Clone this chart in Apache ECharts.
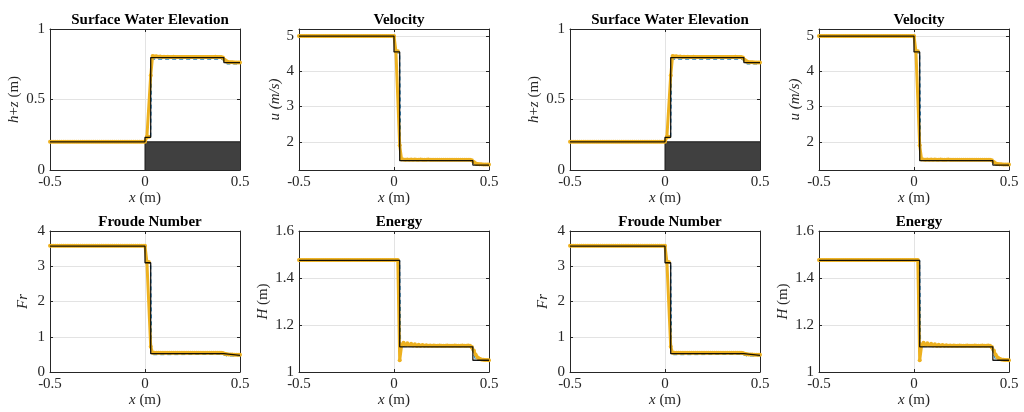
<!DOCTYPE html>
<html>
<head>
<meta charset="utf-8">
<script src="https://cdn.jsdelivr.net/npm/echarts@6/dist/echarts.min.js"></script>
<style>
html,body{margin:0;padding:0;background:#fff}
#chart{width:1024px;height:412px}
</style>
</head>
<body>
<div id="chart"></div>
<script>
// Numerical grid (cell centres, dx = 0.01 m)
const xGrid = [
  -0.50,-0.49,-0.48,-0.47,-0.46,-0.45,-0.44,-0.43,-0.42,-0.41,
  -0.40,-0.39,-0.38,-0.37,-0.36,-0.35,-0.34,-0.33,-0.32,-0.31,
  -0.30,-0.29,-0.28,-0.27,-0.26,-0.25,-0.24,-0.23,-0.22,-0.21,
  -0.20,-0.19,-0.18,-0.17,-0.16,-0.15,-0.14,-0.13,-0.12,-0.11,
  -0.10,-0.09,-0.08,-0.07,-0.06,-0.05,-0.04,-0.03,-0.02,-0.01,
   0.00, 0.01, 0.02, 0.03, 0.04, 0.05, 0.06, 0.07, 0.08, 0.09,
   0.10, 0.11, 0.12, 0.13, 0.14, 0.15, 0.16, 0.17, 0.18, 0.19,
   0.20, 0.21, 0.22, 0.23, 0.24, 0.25, 0.26, 0.27, 0.28, 0.29,
   0.30, 0.31, 0.32, 0.33, 0.34, 0.35, 0.36, 0.37, 0.38, 0.39,
   0.40, 0.41, 0.42, 0.43, 0.44, 0.45, 0.46, 0.47, 0.48, 0.49,
   0.50
];

// Numerical solution (markers)
const elevNum = [
  0.200,0.200,0.200,0.200,0.200,0.200,0.200,0.200,0.200,0.200,
  0.200,0.200,0.200,0.200,0.200,0.200,0.200,0.200,0.200,0.200,
  0.200,0.200,0.200,0.200,0.200,0.200,0.200,0.200,0.200,0.200,
  0.200,0.200,0.200,0.200,0.200,0.200,0.200,0.200,0.200,0.200,
  0.200,0.200,0.200,0.200,0.200,0.200,0.200,0.200,0.200,0.200,
  0.200,0.235,0.236,0.670,0.808,0.804,0.806,0.803,0.805,0.802,
  0.803,0.802,0.803,0.802,0.802,0.803,0.802,0.801,0.802,0.802,
  0.802,0.801,0.802,0.802,0.802,0.801,0.802,0.802,0.802,0.802,
  0.802,0.802,0.801,0.802,0.802,0.802,0.802,0.803,0.802,0.802,
  0.801,0.797,0.781,0.769,0.765,0.764,0.764,0.763,0.763,0.762,
  0.762
];
const velNum = [
  5.00,5.00,5.00,5.00,5.00,5.00,5.00,5.00,5.00,5.00,
  5.00,5.00,5.00,5.00,5.00,5.00,5.00,5.00,5.00,5.00,
  5.00,5.00,5.00,5.00,5.00,5.00,5.00,5.00,5.00,5.00,
  5.00,5.00,5.00,5.00,5.00,5.00,5.00,5.00,5.00,5.00,
  5.00,5.00,5.00,5.00,5.00,5.00,5.00,5.00,5.00,5.00,
  5.00,4.57,4.57,1.90,1.495,1.500,1.493,1.497,1.494,1.495,
  1.494,1.495,1.494,1.494,1.495,1.494,1.494,1.494,1.495,1.494,
  1.494,1.494,1.494,1.494,1.494,1.494,1.494,1.494,1.494,1.494,
  1.494,1.494,1.494,1.494,1.494,1.494,1.494,1.494,1.494,1.494,
  1.492,1.478,1.425,1.385,1.368,1.362,1.360,1.358,1.357,1.356,
  1.355
];
const frNum = [
  3.58,3.58,3.58,3.58,3.58,3.58,3.58,3.58,3.58,3.58,
  3.58,3.58,3.58,3.58,3.58,3.58,3.58,3.58,3.58,3.58,
  3.58,3.58,3.58,3.58,3.58,3.58,3.58,3.58,3.58,3.58,
  3.58,3.58,3.58,3.58,3.58,3.58,3.58,3.58,3.58,3.58,
  3.58,3.58,3.58,3.58,3.58,3.58,3.58,3.58,3.58,3.58,
  3.58,3.12,3.12,0.72,0.548,0.545,0.547,0.544,0.546,0.544,
  0.545,0.544,0.544,0.545,0.544,0.544,0.544,0.544,0.544,0.544,
  0.544,0.544,0.544,0.544,0.544,0.544,0.544,0.544,0.544,0.544,
  0.544,0.544,0.544,0.544,0.544,0.544,0.544,0.544,0.544,0.544,
  0.543,0.537,0.515,0.502,0.496,0.494,0.493,0.492,0.492,0.491,
  0.491
];
const energyNum = [
  1.477,1.477,1.477,1.477,1.477,1.477,1.477,1.477,1.477,1.477,
  1.477,1.477,1.477,1.477,1.477,1.477,1.477,1.477,1.477,1.477,
  1.477,1.477,1.477,1.477,1.477,1.477,1.477,1.477,1.477,1.477,
  1.477,1.477,1.477,1.477,1.477,1.477,1.477,1.477,1.477,1.477,
  1.477,1.477,1.477,1.477,1.477,1.477,1.477,1.477,1.477,1.477,
  1.477,1.477,1.477,1.050,1.113,1.125,1.115,1.122,1.114,1.120,
  1.113,1.118,1.112,1.116,1.112,1.115,1.112,1.114,1.112,1.113,
  1.112,1.113,1.112,1.112,1.113,1.112,1.112,1.112,1.113,1.112,
  1.112,1.112,1.113,1.112,1.112,1.112,1.113,1.112,1.112,1.113,
  1.112,1.106,1.091,1.073,1.062,1.056,1.053,1.052,1.051,1.051,
  1.050
];

// Exact (analytical) step profile
const exactX    = [-0.5, 0.0, 0.0, 0.03, 0.03, 0.415, 0.415, 0.5];
const elevExact = [0.200, 0.200, 0.232, 0.232, 0.797, 0.797, 0.762, 0.762];
const velExact  = [5.00, 5.00, 4.55, 4.55, 1.465, 1.465, 1.34, 1.34];
const frExact   = [3.57, 3.57, 3.10, 3.10, 0.52, 0.52, 0.47, 0.47];
const enExact   = [1.475, 1.475, 1.475, 1.475, 1.107, 1.107, 1.050, 1.050];

// Reference scheme (dashed)
const refX    = [-0.5, 0.0, 0.005, 0.03, 0.035, 0.405, 0.43, 0.5];
const elevRef = [0.200, 0.200, 0.231, 0.231, 0.786, 0.786, 0.752, 0.752];
const velRef  = [4.995, 4.995, 4.52, 4.52, 1.47, 1.47, 1.335, 1.335];
const frRef   = [3.57, 3.57, 3.09, 3.09, 0.49, 0.50, 0.455, 0.455];
const enRef   = [1.474, 1.474, 1.474, 1.474, 1.108, 1.108, 1.050, 1.050];

// Bed step
const bedX = [0.0, 0.0, 0.5];
const bedZ = [0.0, 0.2, 0.2];

// Axis ticks
const xTicks    = [-0.5, 0, 0.5];
const elevTicks = [0, 0.5, 1];
const velTicks  = [2, 3, 4, 5];
const frTicks   = [0, 1, 2, 3, 4];
const enTicks   = [1, 1.2, 1.4, 1.6];

const titles = ['Surface Water Elevation', 'Velocity', 'Froude Number', 'Energy'];

const FONT = 'Liberation Serif';
const INK = '#262626';
const FS = 15;

const panelDefs = [
  { title: titles[0], num: elevNum, exact: elevExact, ref: elevRef, ticks: elevTicks, yMin: 0, yMax: 1,
    yName: '{i|h}+{i|z} (m)', gap: 28, bed: true },
  { title: titles[1], num: velNum, exact: velExact, ref: velRef, ticks: velTicks, yMin: 1.2, yMax: 5.2,
    yName: '{i|u (m/s)}', gap: 15 },
  { title: titles[2], num: frNum, exact: frExact, ref: frRef, ticks: frTicks, yMin: 0, yMax: 4,
    yName: '{i|Fr}', gap: 19 },
  { title: titles[3], num: energyNum, exact: enExact, ref: enRef, ticks: enTicks, yMin: 1, yMax: 1.6,
    yName: '{i|H} (m)', gap: 28 }
];

// Panel layout: two identical 2x2 blocks side by side
const W = 190, H = 141;
const colLeft = [50, 299, 570, 819];
const rowTop = [29, 231];

const grid = [], xAxis = [], yAxis = [], series = [], title = [];

const pair = (xs, ys) => xs.map((x, k) => [x, ys[k]]);

let gi = 0;
for (let block = 0; block < 2; block++) {
  for (let p = 0; p < 4; p++) {
    const def = panelDefs[p];
    const left = colLeft[block * 2 + (p % 2)];
    const top = rowTop[Math.floor(p / 2)];
    grid.push({ left: left, top: top, width: W, height: H, containLabel: false });

    title.push({
      text: def.title, left: left + W / 2, top: top - 21, textAlign: 'center',
      textStyle: { fontFamily: FONT, fontSize: FS, fontWeight: 'bold', color: '#000' }
    });

    const baseTick = { show: true, inside: true, length: 3, lineStyle: { color: INK, width: 1 } };
    const baseLine = { show: true, onZero: false, lineStyle: { color: INK, width: 1 } };
    const split = { show: true, lineStyle: { color: '#e3e3e3', width: 1 } };

    xAxis.push({
      gridIndex: gi, type: 'value', position: 'bottom', min: -0.5, max: 0.5, interval: 0.5,
      axisLine: baseLine, axisTick: Object.assign({ customValues: xTicks }, baseTick), splitLine: split,
      axisLabel: { customValues: xTicks, color: INK, fontFamily: FONT, fontSize: FS, margin: 5 },
      name: '{i|x} (m)', nameLocation: 'middle', nameGap: 21,
      nameTextStyle: { fontFamily: FONT, fontSize: FS, color: INK,
        rich: { i: { fontFamily: FONT, fontSize: FS, fontStyle: 'italic', color: INK } } }
    });
    xAxis.push({
      gridIndex: gi, type: 'value', position: 'top', min: -0.5, max: 0.5, interval: 0.5,
      axisLine: baseLine, axisTick: Object.assign({ customValues: xTicks }, baseTick),
      splitLine: { show: false }, axisLabel: { show: false }
    });

    yAxis.push({
      gridIndex: gi, type: 'value', position: 'left', min: def.yMin, max: def.yMax,
      axisLine: baseLine, axisTick: Object.assign({ customValues: def.ticks }, baseTick), splitLine: split,
      axisLabel: { customValues: def.ticks, color: INK, fontFamily: FONT, fontSize: FS, margin: 5 },
      name: def.yName, nameLocation: 'middle', nameGap: def.gap, nameRotate: 90,
      nameTextStyle: { fontFamily: FONT, fontSize: FS, color: INK,
        rich: { i: { fontFamily: FONT, fontSize: FS, fontStyle: 'italic', color: INK } } }
    });
    yAxis.push({
      gridIndex: gi, type: 'value', position: 'right', min: def.yMin, max: def.yMax,
      axisLine: baseLine, axisTick: Object.assign({ customValues: def.ticks }, baseTick),
      splitLine: { show: false }, axisLabel: { show: false }
    });

    const xi = gi * 2, yi = gi * 2;
    if (def.bed) {
      series.push({
        type: 'line', xAxisIndex: xi, yAxisIndex: yi, data: pair(bedX, bedZ),
        symbol: 'none', silent: true, z: 1,
        lineStyle: { color: '#1a1a1a', width: 1 },
        areaStyle: { color: '#404040', opacity: 1, origin: 'start' }
      });
    }
    series.push({
      type: 'line', xAxisIndex: xi, yAxisIndex: yi, data: pair(refX, def.ref),
      symbol: 'none', silent: true, z: 2,
      lineStyle: { color: '#0072BD', width: 1, type: [4, 3] }
    });
    series.push({
      type: 'line', xAxisIndex: xi, yAxisIndex: yi, data: pair(xGrid, def.num),
      symbol: 'circle', symbolSize: 4, silent: true, z: 3,
      itemStyle: { color: '#EDB120' },
      lineStyle: { color: '#EDB120', width: 3 }
    });
    series.push({
      type: 'line', xAxisIndex: xi, yAxisIndex: yi, data: pair(exactX, def.exact),
      symbol: 'none', silent: true, z: 4,
      lineStyle: { color: '#000000', width: 1.3, opacity: 0.9 }
    });
    gi++;
  }
}

const chart = echarts.init(document.getElementById('chart'), null, { renderer: 'canvas' });
chart.setOption({
  animation: false,
  backgroundColor: '#ffffff',
  title: title,
  grid: grid,
  xAxis: xAxis,
  yAxis: yAxis,
  series: series
});
</script>
</body>
</html>
